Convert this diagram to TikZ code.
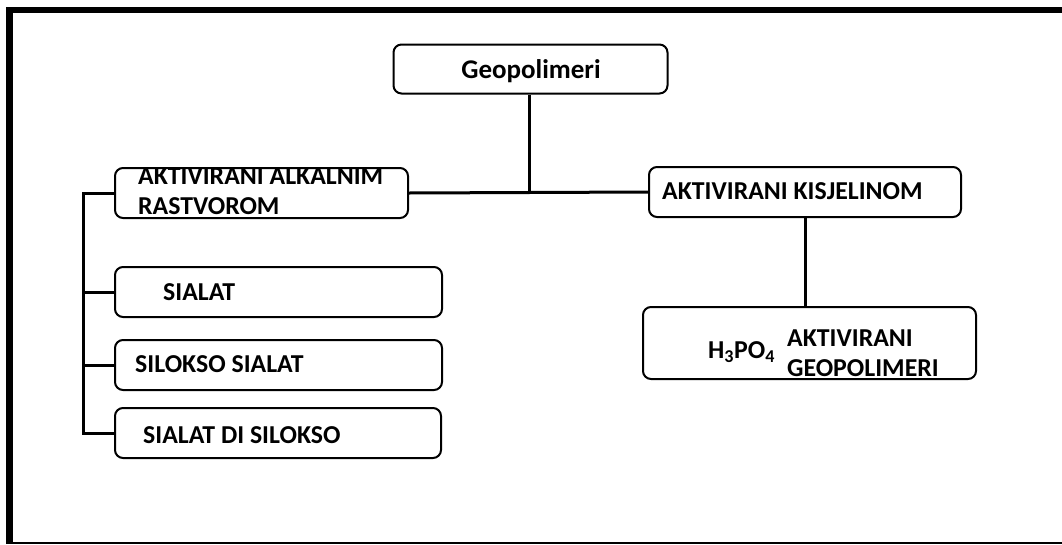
\documentclass[tikz,border=0pt]{standalone}
\usepackage{fontspec}
\setmainfont{Carlito}
\begin{document}
\begin{tikzpicture}[x=1pt,y=-1pt,
  box/.style={draw=black, line width=2pt, rounded corners=8pt, fill=white, inner sep=0pt},
  lbl/.style={inner sep=0pt, anchor=west, align=left, font=\fontsize{25.8}{30}\selectfont\bfseries},
  conn/.style={draw=black, line width=3pt}]
\useasboundingbox (0,0) rectangle (1062,544);
% frame
\draw[line width=6pt] (6,10) -- (1062,10);
\draw[line width=7pt] (9.5,7) -- (9.5,544);
\draw[line width=2pt] (6,543) -- (1062,543);
% boxes
\node[box, minimum width=274pt, minimum height=49pt] (geo) at (530.5,69) {};
\node[box, minimum width=293pt, minimum height=50pt] (alk) at (261.5,193) {};
\node[box, minimum width=327pt, minimum height=50pt] (s1) at (278.5,292) {};
\node[box, minimum width=327pt, minimum height=50pt] (s2) at (278.5,365) {};
\node[box, minimum width=326pt, minimum height=50pt] (s3) at (278,433) {};
\node[box, minimum width=312pt, minimum height=50pt] (kis) at (805,192) {};
\node[box, minimum width=333pt, minimum height=72pt] (h3) at (809.5,343) {};
% connectors
\coordinate (j) at (529,192);
\coordinate (bus) at (83,193);
\draw[conn] (geo.south -| j) -- (j);
\draw[conn] (alk.east) -- (kis.west);
\draw[conn] (alk.west) -- (bus) |- (s3.west);
\draw[conn] (s1.west) -- (s1.west -| bus);
\draw[conn] (s2.west) -- (s2.west -| bus);
\draw[conn] (kis.south) -- (kis.south |- h3.north);
% texts
\node[inner sep=0pt, font=\fontsize{27}{30}\selectfont\bfseries] (tgeo) at (531,71) {Geopolimeri};
\node[lbl] (talk) at (138,191) {AKTIVIRANI ALKALNIM\\RASTVOROM};
\node[lbl] (ts1) at (163,292) {SIALAT};
\node[lbl] (ts2) at (135,364) {SILOKSO SIALAT};
\node[lbl] (ts3) at (143,435) {SIALAT DI SILOKSO};
\node[lbl] (tkis) at (662,191) {AKTIVIRANI KISJELINOM};
\node[lbl] (th3) at (708,352) {H\textsubscript{3}PO\textsubscript{4}};
\node[lbl] (tak) at (787,353) {AKTIVIRANI\\GEOPOLIMERI};
\end{tikzpicture}
\end{document}
